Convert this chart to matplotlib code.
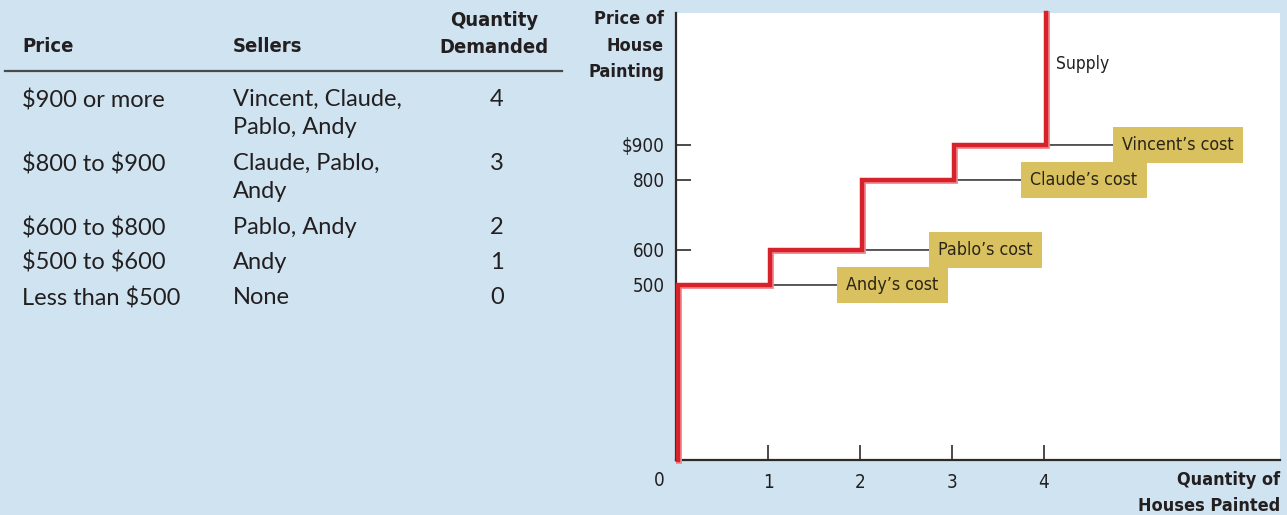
import matplotlib
matplotlib.use("Agg")
import matplotlib.pyplot as plt
import matplotlib.transforms as mtransforms
from matplotlib.lines import Line2D
from matplotlib import font_manager

plt.rcParams["text.parse_math"] = False

# table on the left
prices = ["$900 or more", "$800 to $900", "$600 to $800", "$500 to $600", "Less than $500"]
sellers = ["Vincent, Claude,\nPablo, Andy", "Claude, Pablo,\nAndy", "Pablo, Andy", "Andy", "None"]
qty_demanded = [4, 3, 2, 1, 0]

# supply curve on the right
cost_names = ["Andy", "Pablo", "Claude", "Vincent"]
costs = [500, 600, 800, 900]
y_ticks = [500, 600, 800, 900]
y_tick_labels = ["500", "600", "800", "$900"]
x_ticks = [1, 2, 3, 4]

W, H = 1287, 515
BG = "#cfe3f1"
RED = "#d6232b"
GOLD = "#d9c15f"
INK = "#231f20"
AXC = "#2e2a26"

names = {f.name for f in font_manager.fontManager.ttflist}
cond_fonts = [n for n in ["Liberation Sans Narrow", "DejaVu Sans Condensed"] if n in names]
COND = cond_fonts + ["DejaVu Sans"]
BODY = ["Lato", "DejaVu Sans"]


def fx(px):
    return px / W


def fy(py):
    return 1 - py / H


fig = plt.figure(figsize=(W / 100, H / 100), dpi=100, facecolor=BG)

# ---- table ----
hdr = dict(family=COND, fontweight="bold", fontsize=14.5, color=INK, fontstretch="condensed")
fig.text(fx(22), fy(47), "Price", ha="left", va="center", **hdr)
fig.text(fx(233), fy(47), "Sellers", ha="left", va="center", **hdr)
fig.text(fx(494), fy(34), "Quantity\nDemanded", ha="center", va="center",
         linespacing=1.55, **hdr)
fig.add_artist(Line2D([fx(5), fx(562)], [fy(71), fy(71)], color="#4a4a4a", lw=1.6))

body = dict(family=BODY, fontsize=17, color=INK)
y = 89
for p, s, q in zip(prices, sellers, qty_demanded):
    fig.text(fx(22), fy(y), p, ha="left", va="top", **body)
    fig.text(fx(233), fy(y), s, ha="left", va="top", linespacing=1.42, **body)
    fig.text(fx(497), fy(y), str(q), ha="center", va="top", **body)
    y += 35 + 29 * s.count("\n")

# ---- supply chart ----
ax = fig.add_axes([fx(676), 1 - 460 / H, (1280 - 676) / W, (460 - 13) / H])
ax.set_facecolor("white")
ax.set_xlim(0, 6.565)
ax.set_ylim(0, 1277)
for side in ["top", "right"]:
    ax.spines[side].set_visible(False)
for side in ["left", "bottom"]:
    ax.spines[side].set_color(AXC)
    ax.spines[side].set_linewidth(1.6)

ax.set_xticks(x_ticks)
ax.set_xticklabels([str(t) for t in x_ticks])
ax.set_yticks(y_ticks)
ax.set_yticklabels(y_tick_labels)
ax.tick_params(direction="in", length=11, width=1.2, color=AXC, labelsize=13.5,
               labelcolor=INK)
ax.tick_params(axis="y", pad=8)
ax.tick_params(axis="x", pad=9)
for lab in ax.get_xticklabels() + ax.get_yticklabels():
    lab.set_family(COND)
    lab.set_stretch("condensed")

# step supply curve
xs, ys = [0], [0]
for q, c in enumerate(costs):
    xs += [q, q + 1]
    ys += [c, c]
xs.append(len(costs))
ys.append(ax.get_ylim()[1])
shift = mtransforms.offset_copy(ax.transData, fig=fig, x=2, y=0, units="dots")
ax.plot(xs, ys, color="#f08a90", lw=4.2, transform=mtransforms.offset_copy(
    ax.transData, fig=fig, x=3, y=-1, units="dots"), solid_joinstyle="miter",
    clip_on=False, zorder=3)
ax.plot(xs, ys, color=RED, lw=3.2, transform=shift, solid_joinstyle="miter",
        clip_on=False, zorder=4)

ax.text(4.13, 1130, "Supply", family=COND, fontstretch="condensed", fontsize=12.5,
        color=INK, ha="left", va="center")

# cost labels
for q, (name, c) in enumerate(zip(cost_names, costs), start=1):
    ax.annotate(name + "\u2019s cost", xy=(q + 0.07, c), xycoords="data",
                xytext=(72, 0), textcoords="offset pixels",
                ha="left", va="center", family=COND, fontstretch="condensed",
                fontsize=12.8, color="#2b2418",
                bbox=dict(boxstyle="square,pad=0.52", fc=GOLD, ec="none"),
                arrowprops=dict(arrowstyle="-", color="#3a3a3a", lw=1.2,
                                shrinkA=0, shrinkB=0))

# axis titles
title = dict(family=COND, fontstretch="condensed", fontweight="bold", fontsize=13,
             color=INK, ha="right", va="top")
fig.text(fx(664), fy(10), "Price of\nHouse\nPainting", linespacing=1.62, **title)
fig.text(fx(1280), fy(471), "Quantity of\nHouses Painted", linespacing=1.55, **title)
fig.text(fx(659), fy(480), "0", ha="center", va="center", family=COND,
         fontstretch="condensed", fontsize=13.5, color=INK)

fig.savefig("out.png", dpi=100, facecolor=BG)
